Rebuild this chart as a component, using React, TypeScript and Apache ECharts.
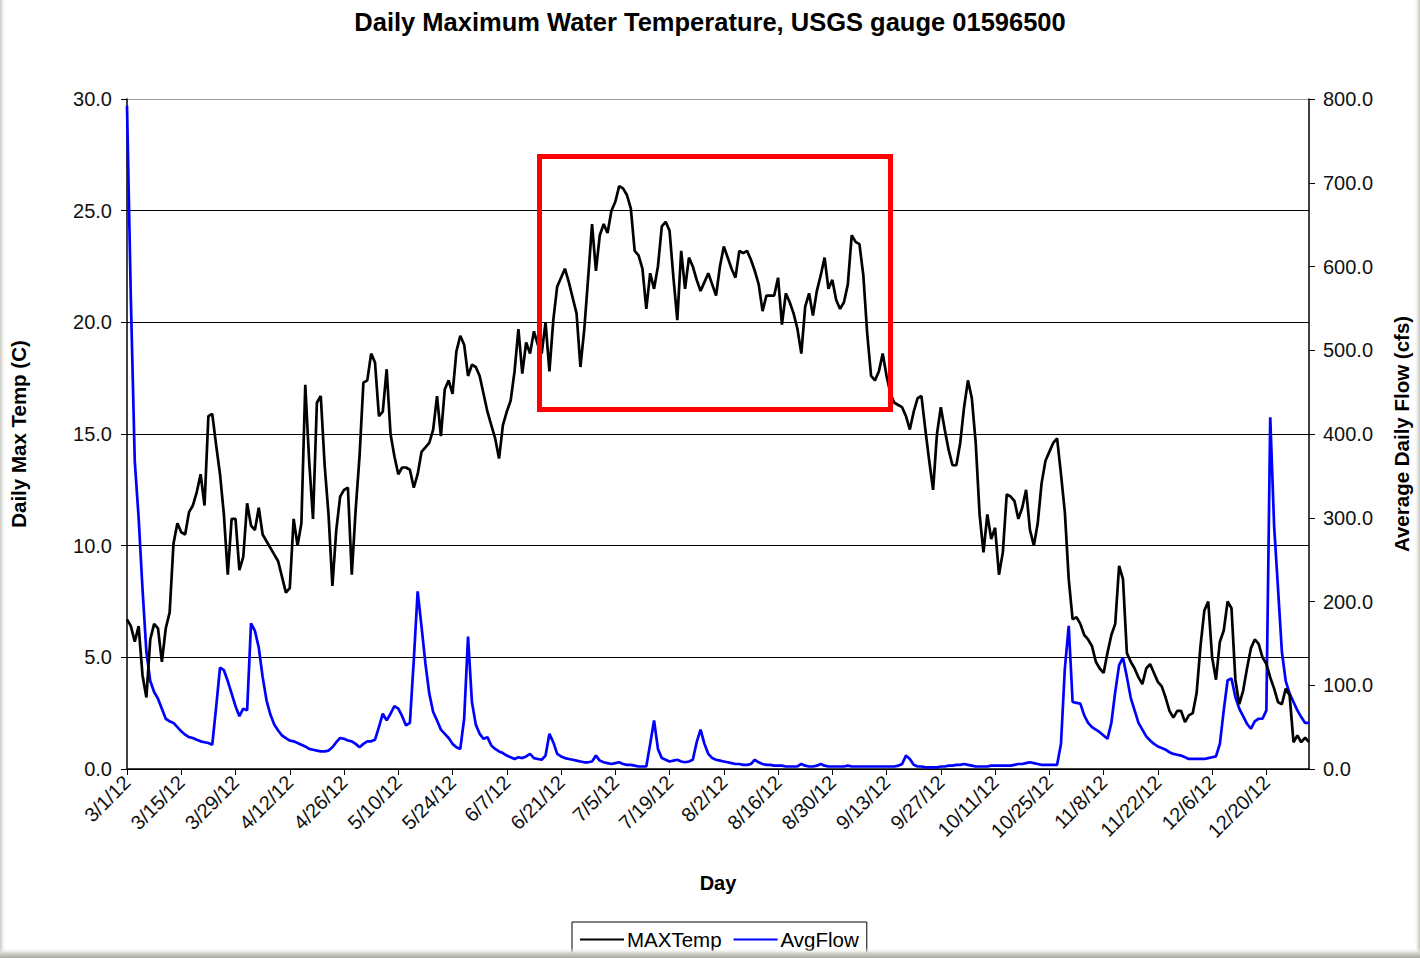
import React, { useEffect, useRef } from "react";
import * as echarts from "echarts";

const START_DATE = [2012, 2, 1]; // year, monthIndex (March), day
const DAY_COUNT = 306;
const TICK_EVERY = 14;

const maxTemp: number[] = [
  6.7, 6.4, 5.7, 6.4, 4.2, 3.2, 5.8, 6.5, 6.3, 4.8,
  6.3, 7.0, 10.1, 11.0, 10.6, 10.5, 11.5, 11.8, 12.4, 13.2,
  11.8, 15.8, 15.9, 14.5, 13.2, 11.4, 8.7, 11.2, 11.2, 8.9,
  9.5, 11.9, 10.9, 10.7, 11.7, 10.5, 10.2, 9.9, 9.6, 9.3,
  8.6, 7.9, 8.1, 11.2, 10.0, 11.0, 17.2, 13.8, 11.2, 16.4,
  16.7, 13.6, 11.4, 8.2, 10.7, 12.2, 12.5, 12.6, 8.7, 11.6,
  14.0, 17.3, 17.4, 18.6, 18.2, 15.8, 16.0, 17.9, 15.0, 14.0,
  13.2, 13.5, 13.5, 13.4, 12.6, 13.2, 14.2, 14.4, 14.6, 15.2,
  16.7, 14.9, 17.0, 17.4, 16.8, 18.7, 19.4, 19.0, 17.6, 18.1,
  18.0, 17.6, 16.8, 16.0, 15.4, 14.8, 13.9, 15.4, 16.0, 16.5,
  17.8, 19.7, 17.7, 19.1, 18.6, 19.6, 19.0, 18.6, 20.0, 17.8,
  20.1, 21.6, 22.0, 22.4, 21.8, 21.1, 20.4, 18.0, 19.7, 22.0,
  24.4, 22.3, 23.9, 24.4, 24.0, 25.0, 25.4, 26.1, 26.0, 25.7,
  25.1, 23.2, 23.0, 22.4, 20.6, 22.2, 21.5, 22.5, 24.3, 24.5,
  24.1, 22.0, 20.1, 23.2, 21.5, 22.9, 22.5, 21.9, 21.4, 21.8,
  22.2, 21.7, 21.2, 22.5, 23.4, 22.9, 22.4, 22.0, 23.2, 23.1,
  23.2, 22.8, 22.3, 21.7, 20.5, 21.2, 21.2, 21.2, 22.0, 19.9,
  21.3, 20.9, 20.4, 19.7, 18.6, 20.7, 21.3, 20.3, 21.4, 22.1,
  22.9, 21.5, 21.9, 21.0, 20.6, 20.9, 21.7, 23.9, 23.6, 23.5,
  22.1, 19.5, 17.6, 17.4, 17.8, 18.6, 17.6, 16.8, 16.4, 16.3,
  16.2, 15.8, 15.2, 16.0, 16.6, 16.7, 15.2, 13.8, 12.5, 15.0,
  16.2, 15.2, 14.3, 13.6, 13.6, 14.6, 16.2, 17.4, 16.6, 14.6,
  11.4, 9.7, 11.4, 10.3, 10.8, 8.7, 9.7, 12.3, 12.2, 12.0,
  11.2, 11.7, 12.5, 10.7, 10.0, 11.0, 12.8, 13.8, 14.2, 14.6,
  14.8, 13.2, 11.5, 8.5, 6.7, 6.8, 6.5, 6.0, 5.8, 5.5,
  4.8, 4.5, 4.3, 5.2, 6.0, 6.5, 9.1, 8.5, 5.2, 4.8,
  4.5, 4.1, 3.8, 4.5, 4.7, 4.3, 3.9, 3.7, 3.2, 2.6,
  2.3, 2.6, 2.6, 2.1, 2.4, 2.5, 3.4, 5.5, 7.1, 7.5,
  5.0, 4.0, 5.7, 6.2, 7.5, 7.2, 4.0, 2.9, 3.5, 4.5,
  5.4, 5.8, 5.6, 5.0, 4.7, 4.1, 3.6, 3.0, 2.9, 3.6,
  3.3, 1.2, 1.5, 1.2, 1.4, 1.2,
];

const avgFlow: number[] = [
  792, 560, 368, 300, 215, 140, 105, 92, 84, 72,
  60, 57, 55, 50, 45, 41, 38, 37, 35, 33,
  32, 31, 29, 74, 121, 118, 105, 90, 75, 63,
  72, 70, 174, 165, 145, 110, 82, 65, 53, 46,
  40, 37, 34, 33, 31, 29, 27, 24, 23, 22,
  21, 21, 22, 26, 32, 37, 36, 34, 33, 30,
  26, 30, 33, 33, 35, 50, 66, 58, 66, 75,
  72, 63, 52, 55, 130, 212, 170, 126, 90, 68,
  58, 47, 42, 37, 30, 26, 24, 60, 158, 80,
  53, 42, 36, 38, 28, 24, 21, 19, 16, 14,
  12, 14, 13, 15, 18, 13, 12, 11, 16, 42,
  32, 18, 15, 13, 12, 11, 10, 9, 8, 8,
  9, 16, 10, 8, 7, 6, 7, 8, 6, 5,
  5, 4, 3, 3, 3, 30, 58, 24, 13, 11,
  9, 10, 11, 9, 8, 9, 11, 32, 47, 30,
  18, 13, 11, 10, 9, 8, 7, 6, 6, 5,
  5, 6, 11, 8, 6, 5, 5, 4, 4, 4,
  3, 3, 3, 3, 6, 4, 3, 3, 4, 6,
  4, 3, 3, 3, 3, 3, 4, 3, 3, 3,
  3, 3, 3, 3, 3, 3, 3, 3, 3, 4,
  6, 16, 12, 5, 3, 3, 2, 2, 2, 2,
  3, 3, 4, 4, 5, 5, 6, 5, 4, 3,
  3, 3, 3, 4, 4, 4, 4, 4, 4, 5,
  6, 6, 7, 8, 7, 6, 5, 5, 5, 5,
  5, 30, 120, 171, 80, 79, 78, 64, 55, 50,
  47, 44, 40, 36, 55, 92, 124, 133, 110, 85,
  70, 55, 47, 39, 34, 30, 27, 25, 23, 20,
  18, 17, 16, 14, 12, 12, 12, 12, 12, 13,
  14, 15, 30, 70, 106, 108, 86, 72, 63, 54,
  48, 57, 60, 60, 70, 420, 290, 216, 140, 105,
  90, 80, 70, 62, 55, 55,
];

const dayLabels: string[] = [];
for (let i = 0; i < DAY_COUNT; i++) {
  const d = new Date(START_DATE[0], START_DATE[1], START_DATE[2] + i);
  dayLabels.push(`${d.getMonth() + 1}/${d.getDate()}/${String(d.getFullYear()).slice(2)}`);
}

const FONT = "Liberation Sans, Arial, sans-serif";

export default function App() {
  const ref = useRef<HTMLDivElement>(null);
  useEffect(() => {
    if (!ref.current) return;
    const chart = echarts.init(ref.current, undefined, { renderer: "svg" });
    chart.setOption({
      animation: false,
      backgroundColor: "#ffffff",
      textStyle: { fontFamily: FONT },
      title: {
        text: "Daily Maximum Water Temperature, USGS gauge 01596500",
        left: "center",
        top: 4,
        textStyle: { fontFamily: FONT, fontSize: 25.5, fontWeight: "bold", color: "#000" },
      },
      grid: { left: 127, right: 105, top: 99, bottom: 189, containLabel: false },
      legend: {
        data: ["MAXTemp", "AvgFlow"],
        left: 572,
        top: 922,
        icon: "rect",
        itemWidth: 44,
        itemHeight: 2,
        itemGap: 12,
        padding: [7, 8, 8, 8],
        borderColor: "#000",
        borderWidth: 1,
        textStyle: { fontFamily: FONT, fontSize: 20.5, color: "#000", padding: [0, 0, 0, -2] },
      },
      xAxis: {
        type: "category",
        data: dayLabels,
        boundaryGap: false,
        name: "Day",
        nameLocation: "middle",
        nameGap: 104,
        nameTextStyle: { fontFamily: FONT, fontSize: 20, fontWeight: "bold", color: "#000" },
        axisLine: { lineStyle: { color: "#000", width: 1.5 } },
        axisTick: { interval: TICK_EVERY - 1, length: 6, lineStyle: { color: "#000" } },
        axisLabel: {
          interval: TICK_EVERY - 1,
          rotate: 45,
          fontFamily: FONT,
          fontSize: 20,
          color: "#111",
          margin: 10,
        },
        splitLine: { show: false },
      },
      yAxis: [
        {
          type: "value",
          min: 0,
          max: 30,
          interval: 5,
          name: "Daily Max Temp (C)",
          nameLocation: "middle",
          nameGap: 98,
          nameTextStyle: { fontFamily: FONT, fontSize: 20.5, fontWeight: "bold", color: "#000" },
          axisLine: { show: true, lineStyle: { color: "#000", width: 1.5 } },
          axisTick: { show: true, length: 6, lineStyle: { color: "#000" } },
          axisLabel: {
            fontFamily: FONT,
            fontSize: 20,
            color: "#111",
            margin: 15,
            formatter: (v: number) => v.toFixed(1),
          },
          splitLine: {
            show: true,
            lineStyle: { color: ["#000", "#000", "#000", "#000", "#000", "#000", "#999"], width: 1.2 },
          },
        },
        {
          type: "value",
          min: 0,
          max: 800,
          interval: 100,
          position: "right",
          name: "Average Daily Flow (cfs)",
          nameLocation: "middle",
          nameGap: 82,
          nameRotate: 90,
          nameTextStyle: { fontFamily: FONT, fontSize: 20.5, fontWeight: "bold", color: "#000" },
          axisLine: { show: true, lineStyle: { color: "#000", width: 1.5 } },
          axisTick: { show: true, length: 6, lineStyle: { color: "#000" } },
          axisLabel: {
            fontFamily: FONT,
            fontSize: 20,
            color: "#111",
            margin: 14,
            formatter: (v: number) => v.toFixed(1),
          },
          splitLine: { show: false },
        },
      ],
      series: [
        {
          name: "MAXTemp",
          type: "line",
          yAxisIndex: 0,
          data: maxTemp,
          symbol: "none",
          lineStyle: { color: "#000", width: 2.7 },
          itemStyle: { color: "#000" },
          z: 3,
        },
        {
          name: "AvgFlow",
          type: "line",
          yAxisIndex: 1,
          data: avgFlow,
          symbol: "none",
          lineStyle: { color: "#0000ff", width: 2.7 },
          itemStyle: { color: "#0000ff" },
          z: 2,
        },
      ],
      graphic: [
        {
          type: "rect",
          shape: { x: 539.5, y: 156.5, width: 351, height: 253 },
          style: { fill: "none", stroke: "#ff0000", lineWidth: 5 },
          z: 100,
        },
        {
          type: "rect",
          shape: { x: 0, y: 0, width: 6, height: 958 },
          style: {
            fill: new echarts.graphic.LinearGradient(0, 0, 1, 0, [
              { offset: 0, color: "#c8c8c0" },
              { offset: 1, color: "rgba(255,255,255,0)" },
            ]),
          },
          z: 101,
        },
        {
          type: "rect",
          shape: { x: 1414, y: 0, width: 6, height: 958 },
          style: {
            fill: new echarts.graphic.LinearGradient(0, 0, 1, 0, [
              { offset: 0, color: "rgba(255,255,255,0)" },
              { offset: 1, color: "#c0c0b8" },
            ]),
          },
          z: 101,
        },
        {
          type: "rect",
          shape: { x: 0, y: 948, width: 1420, height: 10 },
          style: {
            fill: new echarts.graphic.LinearGradient(0, 0, 0, 1, [
              { offset: 0, color: "rgba(255,255,255,0)" },
              { offset: 0.5, color: "#d6d6ce" },
              { offset: 1, color: "#a8a8a0" },
            ]),
          },
          z: 101,
        },
      ],
    });
    return () => chart.dispose();
  }, []);
  return (
    <div
      ref={ref}
      style={{ position: "fixed", left: 0, top: 0, width: 1420, height: 958 }}
    />
  );
}
